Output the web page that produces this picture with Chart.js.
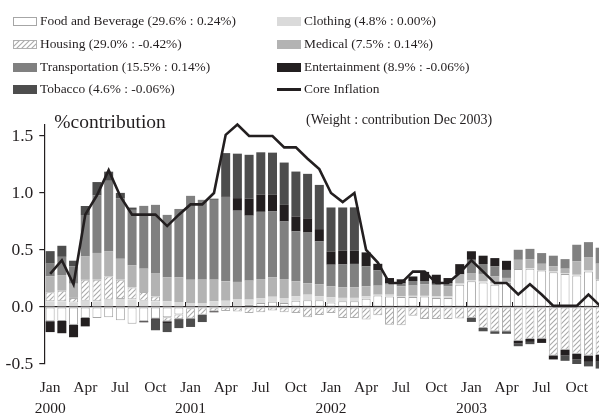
<!DOCTYPE html>
<html><head><meta charset="utf-8">
<script src="https://cdn.jsdelivr.net/npm/chart.js@4.4.1/dist/chart.umd.min.js"></script>
<style>
html,body{margin:0;padding:0;background:#fff;overflow:hidden;width:599px;height:414px;}
#wrap{position:absolute;left:0;top:0;width:612px;height:414px;}
#legend{position:absolute;left:0;top:0;width:599px;height:105px;font-family:'Liberation Serif','Times New Roman',serif;font-size:13.4px;color:#231f20;}
.item{position:absolute;display:flex;align-items:center;white-space:nowrap;height:16px;}
.sw{width:24px;height:9px;margin-right:3px;box-sizing:border-box;}
</style></head>
<body>
<div id="wrap"><canvas id="c" width="612" height="414"></canvas></div>
<div id="legend"></div>
<script>
const monthNames = ['Jan','Feb','Mar','Apr','May','Jun','Jul','Aug','Sep','Oct','Nov','Dec'];
const years = [2000, 2001, 2002, 2003];
const shownMonths = ['Jan','Apr','Jul','Oct'];
const yTickValues = [-0.5, 0, 0.5, 1.0, 1.5];
const zeroTickEvery = 4;

const seriesLabels = [
  'Food and Beverage (29.6% : 0.24%)',
  'Clothing (4.8% : 0.00%)',
  'Housing (29.0% : -0.42%)',
  'Medical (7.5% : 0.14%)',
  'Transportation (15.5% : 0.14%)',
  'Entertainment (8.9% : -0.06%)',
  'Tobacco (4.6% : -0.06%)',
  'Core Inflation'
];

const food = [-0.125,-0.123,-0.155,-0.096,-0.096,-0.09,-0.117,-0.146,-0.125,-0.10,-0.09,-0.065,
  -0.01,0,0,0,0.01,0.02,0.035,0.045,0.035,0.055,0.06,0.06,
  0.04,0.05,0.05,0.073,0.1,0.093,0.088,0.088,0.093,0.08,0.08,0.196,
  0.225,0.216,0.196,0.21,0.333,0.335,0.321,0.305,0.29,0.277,0.312,0.24];
const clothing = [0.05,0.05,0.04,0.055,0.05,0.064,0.07,0.067,0.055,0.05,0.05,0.044,
  0.035,0.035,0.05,0.055,0.06,0.045,0.04,0.045,0.044,0.038,0.048,0.035,
  0.045,0.03,0.03,0.02,0.008,0.015,0.005,0.01,0.005,0.013,0.013,0.01,
  0.008,0.009,0.014,0.01,0,0.005,0,0.007,0.008,0.006,0.009,0];
const housing = [0.08,0.093,0.04,0.184,0.19,0.204,0.17,0.105,0.076,0.043,-0.036,-0.04,
  -0.09,-0.067,-0.038,-0.035,-0.04,-0.053,-0.045,-0.03,-0.045,-0.053,-0.09,-0.07,
  -0.053,-0.096,-0.096,-0.11,-0.073,-0.155,-0.16,-0.076,-0.105,-0.105,-0.105,-0.10,
  -0.096,-0.184,-0.213,-0.213,-0.295,-0.28,-0.277,-0.425,-0.374,-0.409,-0.426,-0.42];
const medical = [0.14,0.137,0.124,0.204,0.234,0.219,0.183,0.195,0.205,0.205,0.21,0.216,
  0.204,0.205,0.19,0.17,0.15,0.166,0.17,0.17,0.166,0.132,0.10,0.105,
  0.096,0.093,0.093,0.088,0.079,0.088,0.088,0.09,0.10,0.10,0.087,0.08,
  0.065,0.065,0.058,0.035,0.081,0.08,0.058,0.044,0.038,0.117,0.117,0.14];
const transportation = [0.11,0.16,0.152,0.364,0.504,0.62,0.532,0.485,0.551,0.598,0.548,0.6,
  0.736,0.70,0.70,0.74,0.625,0.57,0.59,0.578,0.505,0.438,0.445,0.375,
  0.19,0.2,0.205,0.175,0.134,0.014,0.025,0.04,0.03,0.01,0.03,0,
  0.116,0.087,0.088,0.07,0.088,0.09,0.094,0.094,0.084,0.146,0.131,0.14];
const entertainment = [-0.095,-0.107,-0.11,-0.074,0,0,0,0,-0.009,-0.012,-0.014,-0.005,
  0,0,-0.008,0.005,0.11,0.149,0.15,0.146,0.146,0.131,0.125,0.108,
  0.116,0.122,0.116,0.123,0.058,0.044,0.037,0.035,0.08,0.08,0.044,0.09,
  0.075,0.073,0.073,0.08,-0.026,-0.026,-0.038,-0.035,-0.052,-0.052,-0.055,-0.06];
const tobacco = [0.11,0.097,0.05,0.079,0.118,0.08,0.046,0.02,0,-0.092,-0.08,-0.075,
  -0.075,-0.065,0.01,0.38,0.39,0.385,0.372,0.37,0.371,0.394,0.39,0.388,
  0.386,0.378,0.38,0,0,0,0,0.006,0,0,0,0,
  -0.035,-0.029,-0.022,-0.022,-0.023,-0.02,0,0,-0.046,-0.039,-0.04,-0.06];
const coreInflation = [0.29,0.41,0.2,0.81,0.98,1.2,0.97,0.81,0.81,0.81,0.71,0.81,
  0.9,0.9,1.0,1.51,1.6,1.5,1.5,1.5,1.4,1.4,1.3,1.21,
  1.0,0.92,1.0,0.5,0.39,0.21,0.21,0.31,0.31,0.21,0.21,0.3,
  0.41,0.31,0.21,0.21,0.11,0.2,0.11,0.01,0.01,0.01,0.11,0.01];

const categories = [];
years.forEach(yr => monthNames.forEach(m => categories.push(m + ' ' + yr)));

// hatch pattern for Housing
const tile = document.createElement('canvas');
tile.width = 5; tile.height = 5;
const tctx = tile.getContext('2d');
tctx.fillStyle = '#ffffff'; tctx.fillRect(0,0,5,5);
tctx.strokeStyle = '#a9a9a9'; tctx.lineWidth = 1.1;
tctx.beginPath();
tctx.moveTo(-1,6); tctx.lineTo(6,-1);
tctx.moveTo(-1,1); tctx.lineTo(1,-1);
tctx.moveTo(4,6); tctx.lineTo(6,4);
tctx.stroke();
const mainCtx = document.getElementById('c').getContext('2d');
const hatch = mainCtx.createPattern(tile, 'repeat');

const ink = '#231f20';
const serif = '"Liberation Serif", "Times New Roman", serif';
const barCommon = {type:'bar', barPercentage:0.77, categoryPercentage:1.0, borderSkipped:false, clip:false, order:1};
const datasets = [
  Object.assign({label:seriesLabels[0], data:food, backgroundColor:'#ffffff', borderColor:'#a6a6a6', borderWidth:1}, barCommon),
  Object.assign({label:seriesLabels[1], data:clothing, backgroundColor:'#dadada', borderWidth:0}, barCommon),
  Object.assign({label:seriesLabels[2], data:housing, backgroundColor:hatch, borderColor:'#b0b0b0', borderWidth:1}, barCommon),
  Object.assign({label:seriesLabels[3], data:medical, backgroundColor:'#b3b3b3', borderWidth:0}, barCommon),
  Object.assign({label:seriesLabels[4], data:transportation, backgroundColor:'#808080', borderWidth:0}, barCommon),
  Object.assign({label:seriesLabels[5], data:entertainment, backgroundColor:ink, borderWidth:0}, barCommon),
  Object.assign({label:seriesLabels[6], data:tobacco, backgroundColor:'#4d4d4d', borderWidth:0}, barCommon),
  {type:'line', label:seriesLabels[7], data:coreInflation, borderColor:ink, borderWidth:2.6, pointRadius:0, tension:0, fill:false, stack:'core', order:0, clip:false}
];

const annot = {
  id:'annot',
  beforeDatasetsDraw(chart){
    const {ctx, scales:{x, y}} = chart;
    const y0 = y.getPixelForValue(0);
    ctx.save(); ctx.strokeStyle = ink; ctx.lineWidth = 1;
    for (let i = zeroTickEvery - 1; i < categories.length - 1; i += zeroTickEvery) {
      const px = Math.round((x.getPixelForValue(i) + x.getPixelForValue(i + 1)) / 2) + 0.5;
      ctx.beginPath(); ctx.moveTo(px, y0); ctx.lineTo(px, y0 - 5); ctx.stroke();
    }
    ctx.restore();
  },
  afterDraw(chart){
    const {ctx, chartArea} = chart;
    ctx.save();
    ctx.fillStyle = ink; ctx.textBaseline = 'middle'; ctx.textAlign = 'left';
    ctx.font = '19.5px ' + serif;
    ctx.fillText('%contribution', chartArea.left + 10, 123);
    ctx.font = '14px ' + serif;
    ctx.fillText('(Weight : contribution Dec 2003)', 306, 120);
    ctx.restore();
  }
};

const chart = new Chart(mainCtx, {
  data: {labels: categories, datasets},
  options: {
    responsive:false, animation:false, devicePixelRatio:1,
    layout:{padding:{top:124.6, right:6, left:0, bottom:0}},
    plugins:{legend:{display:false}, tooltip:{enabled:false}},
    scales:{
      x:{
        stacked:true, offset:true,
        grid:{display:false, drawTicks:false},
        border:{display:false},
        ticks:{
          autoSkip:false, maxRotation:0, padding:13, color:ink,
          font:{family:serif, size:15.5, lineHeight:1.38},
          callback:(v, i) => {
            const m = monthNames[i % 12];
            if (!shownMonths.includes(m)) return null;
            if (m === 'Jan') return [m, String(years[Math.floor(i / 12)])];
            return m;
          }
        },
        afterFit:(s) => { s.height = 50; }
      },
      y:{
        stacked:true, min:-0.5, max:1.6,
        afterBuildTicks:(s) => { s.ticks = yTickValues.map(v => ({value:v})); },
        afterFit:(s) => { s.width = 44.3; },
        border:{display:true, color:ink, width:1.2},
        grid:{drawOnChartArea:true, drawTicks:true, tickLength:5, tickColor:ink, lineWidth:1.2,
          color:(c) => (c.tick && c.tick.value === 0) ? ink : 'rgba(0,0,0,0)'},
        ticks:{color:ink, padding:6, font:{family:serif, size:17.5},
          callback:(v) => Number(v).toFixed(1)}
      }
    }
  },
  plugins:[annot]
});

// HTML legend built from the chart's datasets
const legendEl = document.getElementById('legend');
const rowCenters = [21, 44, 67, 89];
const colLefts = [13, 277];
chart.data.datasets.forEach((ds, i) => {
  const item = document.createElement('div');
  item.className = 'item';
  item.style.left = colLefts[i % 2] + 'px';
  item.style.top = (rowCenters[Math.floor(i / 2)] - 8) + 'px';
  const sw = document.createElement('span');
  sw.className = 'sw';
  if (ds.type === 'line') {
    sw.style.height = '3px'; sw.style.background = ds.borderColor;
  } else if (ds.backgroundColor === hatch) {
    sw.style.backgroundImage = 'url(' + tile.toDataURL() + ')';
    sw.style.border = '1px solid ' + ds.borderColor;
  } else {
    sw.style.background = ds.backgroundColor;
    if (ds.borderWidth) sw.style.border = '1px solid ' + ds.borderColor;
  }
  item.appendChild(sw);
  const t = document.createElement('span');
  t.textContent = ds.label;
  item.appendChild(t);
  legendEl.appendChild(item);
});
</script>
</body></html>
